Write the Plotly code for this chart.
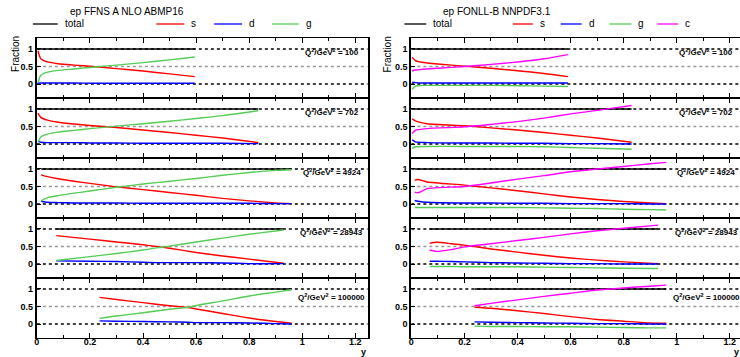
import plotly.graph_objects as go

# ---------------- DATA ----------------
q2_labels = ["100", "702", "4924", "28943", "100000"]
titles = ["ep FFNS A NLO ABMP16", "ep FONLL-B NNPDF3.1"]
x_ticks = [0, 0.2, 0.4, 0.6, 0.8, 1, 1.2]
x_tick_text = ["0", "0.2", "0.4", "0.6", "0.8", "1", "1.2"]
y_ticks = [0, 0.5, 1]
y_tick_text = ["0", "0.5", "1"]

# FFNS A NLO ABMP16 (left column)
ffns_x_q100 = [0.004, 0.015, 0.04, 0.08, 0.14, 0.21, 0.3, 0.4, 0.5, 0.595]
ffns_s_q100 = [0.95, 0.72, 0.63, 0.58, 0.54, 0.50, 0.44, 0.37, 0.29, 0.21]
ffns_d_q100 = [0.02, 0.03, 0.03, 0.03, 0.03, 0.02, 0.02, 0.02, 0.02, 0.02]
ffns_g_q100 = [0.03, 0.25, 0.34, 0.39, 0.43, 0.48, 0.54, 0.61, 0.69, 0.77]

ffns_x_q702 = [0.004, 0.015, 0.04, 0.08, 0.14, 0.2, 0.3, 0.4, 0.5, 0.6, 0.7, 0.834]
ffns_s_q702 = [0.88, 0.76, 0.68, 0.62, 0.57, 0.53, 0.47, 0.40, 0.33, 0.25, 0.17, 0.04]
ffns_d_q702 = [0.08, 0.05, 0.04, 0.04, 0.04, 0.03, 0.03, 0.02, 0.02, 0.02, 0.02, 0.01]
ffns_g_q702 = [0.04, 0.20, 0.28, 0.34, 0.39, 0.44, 0.51, 0.58, 0.65, 0.73, 0.81, 0.95]

ffns_x_q4924 = [0.016, 0.04, 0.08, 0.14, 0.2, 0.3, 0.4, 0.5, 0.6, 0.7, 0.8, 0.9, 0.96]
ffns_s_q4924 = [0.83, 0.78, 0.72, 0.65, 0.59, 0.49, 0.41, 0.33, 0.25, 0.16, 0.09, 0.03, 0.01]
ffns_d_q4924 = [0.08, 0.05, 0.04, 0.03, 0.03, 0.03, 0.02, 0.02, 0.02, 0.02, 0.02, 0.01, 0.01]
ffns_g_q4924 = [0.09, 0.18, 0.24, 0.31, 0.37, 0.48, 0.57, 0.65, 0.73, 0.82, 0.90, 0.96, 0.98]

ffns_x_q28943 = [0.073, 0.2, 0.3, 0.4, 0.45, 0.5, 0.6, 0.7, 0.8, 0.93]
ffns_s_q28943 = [0.81, 0.71, 0.63, 0.55, 0.50, 0.45, 0.33, 0.23, 0.14, 0.02]
ffns_d_q28943 = [0.09, 0.08, 0.07, 0.05, 0.04, 0.04, 0.04, 0.03, 0.01, 0.01]
ffns_g_q28943 = [0.10, 0.21, 0.30, 0.40, 0.46, 0.51, 0.63, 0.74, 0.85, 0.97]

ffns_x_q100000 = [0.236, 0.3, 0.4, 0.5, 0.57, 0.6, 0.7, 0.8, 0.9, 0.96]
ffns_s_q100000 = [0.76, 0.70, 0.61, 0.52, 0.47, 0.43, 0.30, 0.17, 0.07, 0.02]
ffns_d_q100000 = [0.09, 0.08, 0.07, 0.06, 0.05, 0.04, 0.04, 0.03, 0.01, 0.00]
ffns_g_q100000 = [0.16, 0.23, 0.32, 0.42, 0.48, 0.53, 0.66, 0.80, 0.91, 0.98]

# FONLL-B NNPDF3.1 (right column)
fonll_x_q100 = [0.003, 0.015, 0.04, 0.1, 0.2, 0.3, 0.4, 0.5, 0.59]
fonll_s_q100 = [0.76, 0.67, 0.62, 0.57, 0.51, 0.45, 0.38, 0.30, 0.21]
fonll_d_q100 = [0.05, 0.04, 0.03, 0.03, 0.03, 0.03, 0.03, 0.03, 0.03]
fonll_g_q100 = [-0.15, -0.06, -0.04, -0.04, -0.04, -0.04, -0.05, -0.06, -0.07]
fonll_c_q100 = [0.37, 0.40, 0.42, 0.45, 0.50, 0.56, 0.63, 0.72, 0.84]

fonll_x_q702 = [0.003, 0.015, 0.06, 0.2, 0.3, 0.4, 0.5, 0.6, 0.7, 0.83]
fonll_s_q702 = [0.72, 0.66, 0.58, 0.52, 0.46, 0.40, 0.33, 0.25, 0.17, 0.05]
fonll_d_q702 = [0.12, 0.06, 0.04, 0.03, 0.03, 0.02, 0.02, 0.01, 0.01, 0.00]
fonll_g_q702 = [-0.13, -0.08, -0.07, -0.07, -0.07, -0.07, -0.08, -0.10, -0.12, -0.15]
fonll_c_q702 = [0.30, 0.39, 0.44, 0.49, 0.56, 0.64, 0.74, 0.86, 0.96, 1.10]

fonll_x_q4924 = [0.0125, 0.025, 0.06, 0.2, 0.3, 0.4, 0.5, 0.6, 0.7, 0.8, 0.9, 0.96]
fonll_s_q4924 = [0.68, 0.70, 0.63, 0.54, 0.46, 0.38, 0.29, 0.20, 0.13, 0.07, 0.03, 0.01]
fonll_d_q4924 = [0.10, 0.08, 0.05, 0.03, 0.03, 0.02, 0.02, 0.01, 0.01, 0.01, 0.00, 0.00]
fonll_g_q4924 = [-0.10, -0.10, -0.10, -0.10, -0.10, -0.10, -0.11, -0.12, -0.13, -0.15, -0.16, -0.17]
fonll_c_q4924 = [0.34, 0.32, 0.44, 0.50, 0.60, 0.71, 0.81, 0.92, 1.00, 1.07, 1.15, 1.19]

fonll_x_q28943 = [0.069, 0.095, 0.15, 0.2, 0.3, 0.4, 0.5, 0.6, 0.7, 0.8, 0.93]
fonll_s_q28943 = [0.59, 0.62, 0.58, 0.54, 0.43, 0.34, 0.25, 0.17, 0.11, 0.06, 0.01]
fonll_d_q28943 = [0.08, 0.08, 0.07, 0.06, 0.04, 0.03, 0.02, 0.01, 0.01, 0.00, 0.00]
fonll_g_q28943 = [-0.07, -0.07, -0.07, -0.08, -0.08, -0.08, -0.09, -0.10, -0.11, -0.12, -0.13]
fonll_c_q28943 = [0.40, 0.36, 0.41, 0.49, 0.58, 0.67, 0.76, 0.86, 0.95, 1.02, 1.11]

fonll_x_q100000 = [0.238, 0.3, 0.4, 0.5, 0.6, 0.7, 0.8, 0.9, 0.96]
fonll_s_q100000 = [0.48, 0.45, 0.38, 0.30, 0.21, 0.13, 0.08, 0.03, 0.02]
fonll_d_q100000 = [0.06, 0.05, 0.04, 0.03, 0.02, 0.01, 0.01, 0.00, 0.00]
fonll_g_q100000 = [-0.06, -0.07, -0.07, -0.08, -0.08, -0.09, -0.10, -0.11, -0.11]
fonll_c_q100000 = [0.52, 0.59, 0.69, 0.79, 0.88, 0.97, 1.03, 1.08, 1.11]

total_level = 1.0

# ---------------- STYLE / LAYOUT ----------------
W, H = 740, 357
FONT = "Liberation Sans, Arial, sans-serif"
COL = {"total": "black", "s": "#ff0000", "d": "#0000ff", "g": "#55cc55", "c": "#ff00ff"}


def fx(px):
    return px / W


def fy(py):
    return 1 - py / H


panels = [
    [
        (ffns_x_q100, {"s": ffns_s_q100, "d": ffns_d_q100, "g": ffns_g_q100}),
        (ffns_x_q702, {"s": ffns_s_q702, "d": ffns_d_q702, "g": ffns_g_q702}),
        (ffns_x_q4924, {"s": ffns_s_q4924, "d": ffns_d_q4924, "g": ffns_g_q4924}),
        (ffns_x_q28943, {"s": ffns_s_q28943, "d": ffns_d_q28943, "g": ffns_g_q28943}),
        (ffns_x_q100000, {"s": ffns_s_q100000, "d": ffns_d_q100000, "g": ffns_g_q100000}),
    ],
    [
        (fonll_x_q100, {"s": fonll_s_q100, "d": fonll_d_q100, "g": fonll_g_q100, "c": fonll_c_q100}),
        (fonll_x_q702, {"s": fonll_s_q702, "d": fonll_d_q702, "g": fonll_g_q702, "c": fonll_c_q702}),
        (fonll_x_q4924, {"s": fonll_s_q4924, "d": fonll_d_q4924, "g": fonll_g_q4924, "c": fonll_c_q4924}),
        (fonll_x_q28943, {"s": fonll_s_q28943, "d": fonll_d_q28943, "g": fonll_g_q28943, "c": fonll_c_q28943}),
        (fonll_x_q100000, {"s": fonll_s_q100000, "d": fonll_d_q100000, "g": fonll_g_q100000, "c": fonll_c_q100000}),
    ],
]

col_px = [(34, 366), (410, 740)]
px_per_unit = 266.5
panel_top = 38
panel_h = 60.0
y_range = [-0.4, 1.314]

fig = go.Figure()
layout = dict(
    width=W, height=H, margin=dict(l=0, r=0, t=0, b=0),
    paper_bgcolor="white", plot_bgcolor="white", showlegend=False,
    font=dict(family=FONT, color="black"),
)
shapes = []
annotations = []

for c in range(2):
    x0p, x1p = col_px[c]
    xr = [0, (x1p - x0p) / px_per_unit]
    for p in range(5):
        idx = c * 5 + p + 1
        xn = "x" if idx == 1 else f"x{idx}"
        yn = "y" if idx == 1 else f"y{idx}"
        top = panel_top + p * panel_h
        bot = top + panel_h
        layout["xaxis" if idx == 1 else f"xaxis{idx}"] = dict(
            domain=[fx(x0p), min(1.0, fx(x1p))], range=xr, anchor=yn,
            showline=True, linewidth=1.2, linecolor="black", mirror="ticks",
            ticks="inside", ticklen=5, tickwidth=1, tickcolor="black",
            tickvals=x_ticks, ticktext=x_tick_text,
            minor=dict(dtick=0.1, tick0=0, ticks="inside", ticklen=3, tickcolor="black"),
            showticklabels=(p == 4), ticklabelstandoff=-5,
            tickfont=dict(size=9, family=FONT, weight="bold"),
            showgrid=False, zeroline=False, fixedrange=True,
        )
        layout["yaxis" if idx == 1 else f"yaxis{idx}"] = dict(
            domain=[fy(bot), fy(top)], range=y_range, anchor=xn,
            showline=True, linewidth=2, linecolor="black", mirror=(c == 0),
            ticks="inside", ticklen=4, tickcolor="black",
            tickvals=y_ticks, ticktext=y_tick_text,
            tickfont=dict(size=9, family=FONT, weight="bold"),
            showgrid=False, zeroline=False, fixedrange=True,
        )
        # dotted reference lines
        for yv, colr in [(0, "black"), (0.5, "#999999"), (1, "black")]:
            shapes.append(dict(
                type="line", xref=f"{xn} domain", yref=yn, x0=0, x1=1, y0=yv, y1=yv,
                line=dict(color=colr, width=1.6, dash="dot"), layer="below",
            ))
        xs, series = panels[c][p]
        fig.add_trace(go.Scatter(
            x=[xs[0], xs[-1]], y=[total_level, total_level], mode="lines",
            line=dict(color=COL["total"], width=1.5), xaxis=xn, yaxis=yn,
        ))
        for name in ["s", "d", "g", "c"]:
            if name in series:
                fig.add_trace(go.Scatter(
                    x=xs, y=series[name], mode="lines",
                    line=dict(color=COL[name], width=1.4, shape="spline", smoothing=0.6),
                    xaxis=xn, yaxis=yn,
                ))
        annotations.append(dict(
            text=f"Q<sup>2</sup>/GeV<sup>2</sup> = {q2_labels[p]}",
            xref="paper", yref=yn, x=fx(330 + 376 * c), y=(0.78 if p == 4 else 0.9),
            xanchor="center", yanchor="middle", showarrow=False,
            font=dict(size=8, family=FONT, weight="bold"),
        ))

# titles, axis labels, legend
title_x = [65, 440]
for c in range(2):
    annotations.append(dict(
        text=titles[c], xref="paper", yref="paper", x=fx(title_x[c]), y=fy(12),
        xanchor="left", yanchor="middle", showarrow=False, font=dict(size=10, family=FONT),
    ))
    annotations.append(dict(
        text="Fraction", xref="paper", yref="paper", x=fx([12, 386][c]), y=fy(54),
        xanchor="center", yanchor="middle", textangle=-90, showarrow=False,
        font=dict(size=10, family=FONT),
    ))
    annotations.append(dict(
        text="y", xref="paper", yref="paper", x=fx([362, 736][c]), y=fy(352),
        xanchor="center", yanchor="middle", showarrow=False,
        font=dict(size=9, family=FONT, weight="bold"),
    ))

legend_items = [
    [("total", 30, 55), ("s", 154, 182), ("d", 212, 240), ("g", 270, 297)],
    [("total", 403, 425), ("s", 512, 532), ("d", 560, 581), ("g", 609, 631), ("c", 657, 678)],
]
for items in legend_items:
    for name, a, b in items:
        shapes.append(dict(
            type="line", xref="paper", yref="paper", x0=fx(a), x1=fx(b), y0=fy(24), y1=fy(24),
            line=dict(color=COL[name], width=1.3),
        ))
        annotations.append(dict(
            text=name, xref="paper", yref="paper", x=fx(b + 5), y=fy(24),
            xanchor="left", yanchor="middle", showarrow=False, font=dict(size=10, family=FONT),
        ))

layout["shapes"] = shapes
layout["annotations"] = annotations
fig.update_layout(**layout)
fig.write_html(
    "out.html",
    config={"displayModeBar": False},
    post_script="document.body.style.margin='0';document.body.style.overflow='hidden';",
)
